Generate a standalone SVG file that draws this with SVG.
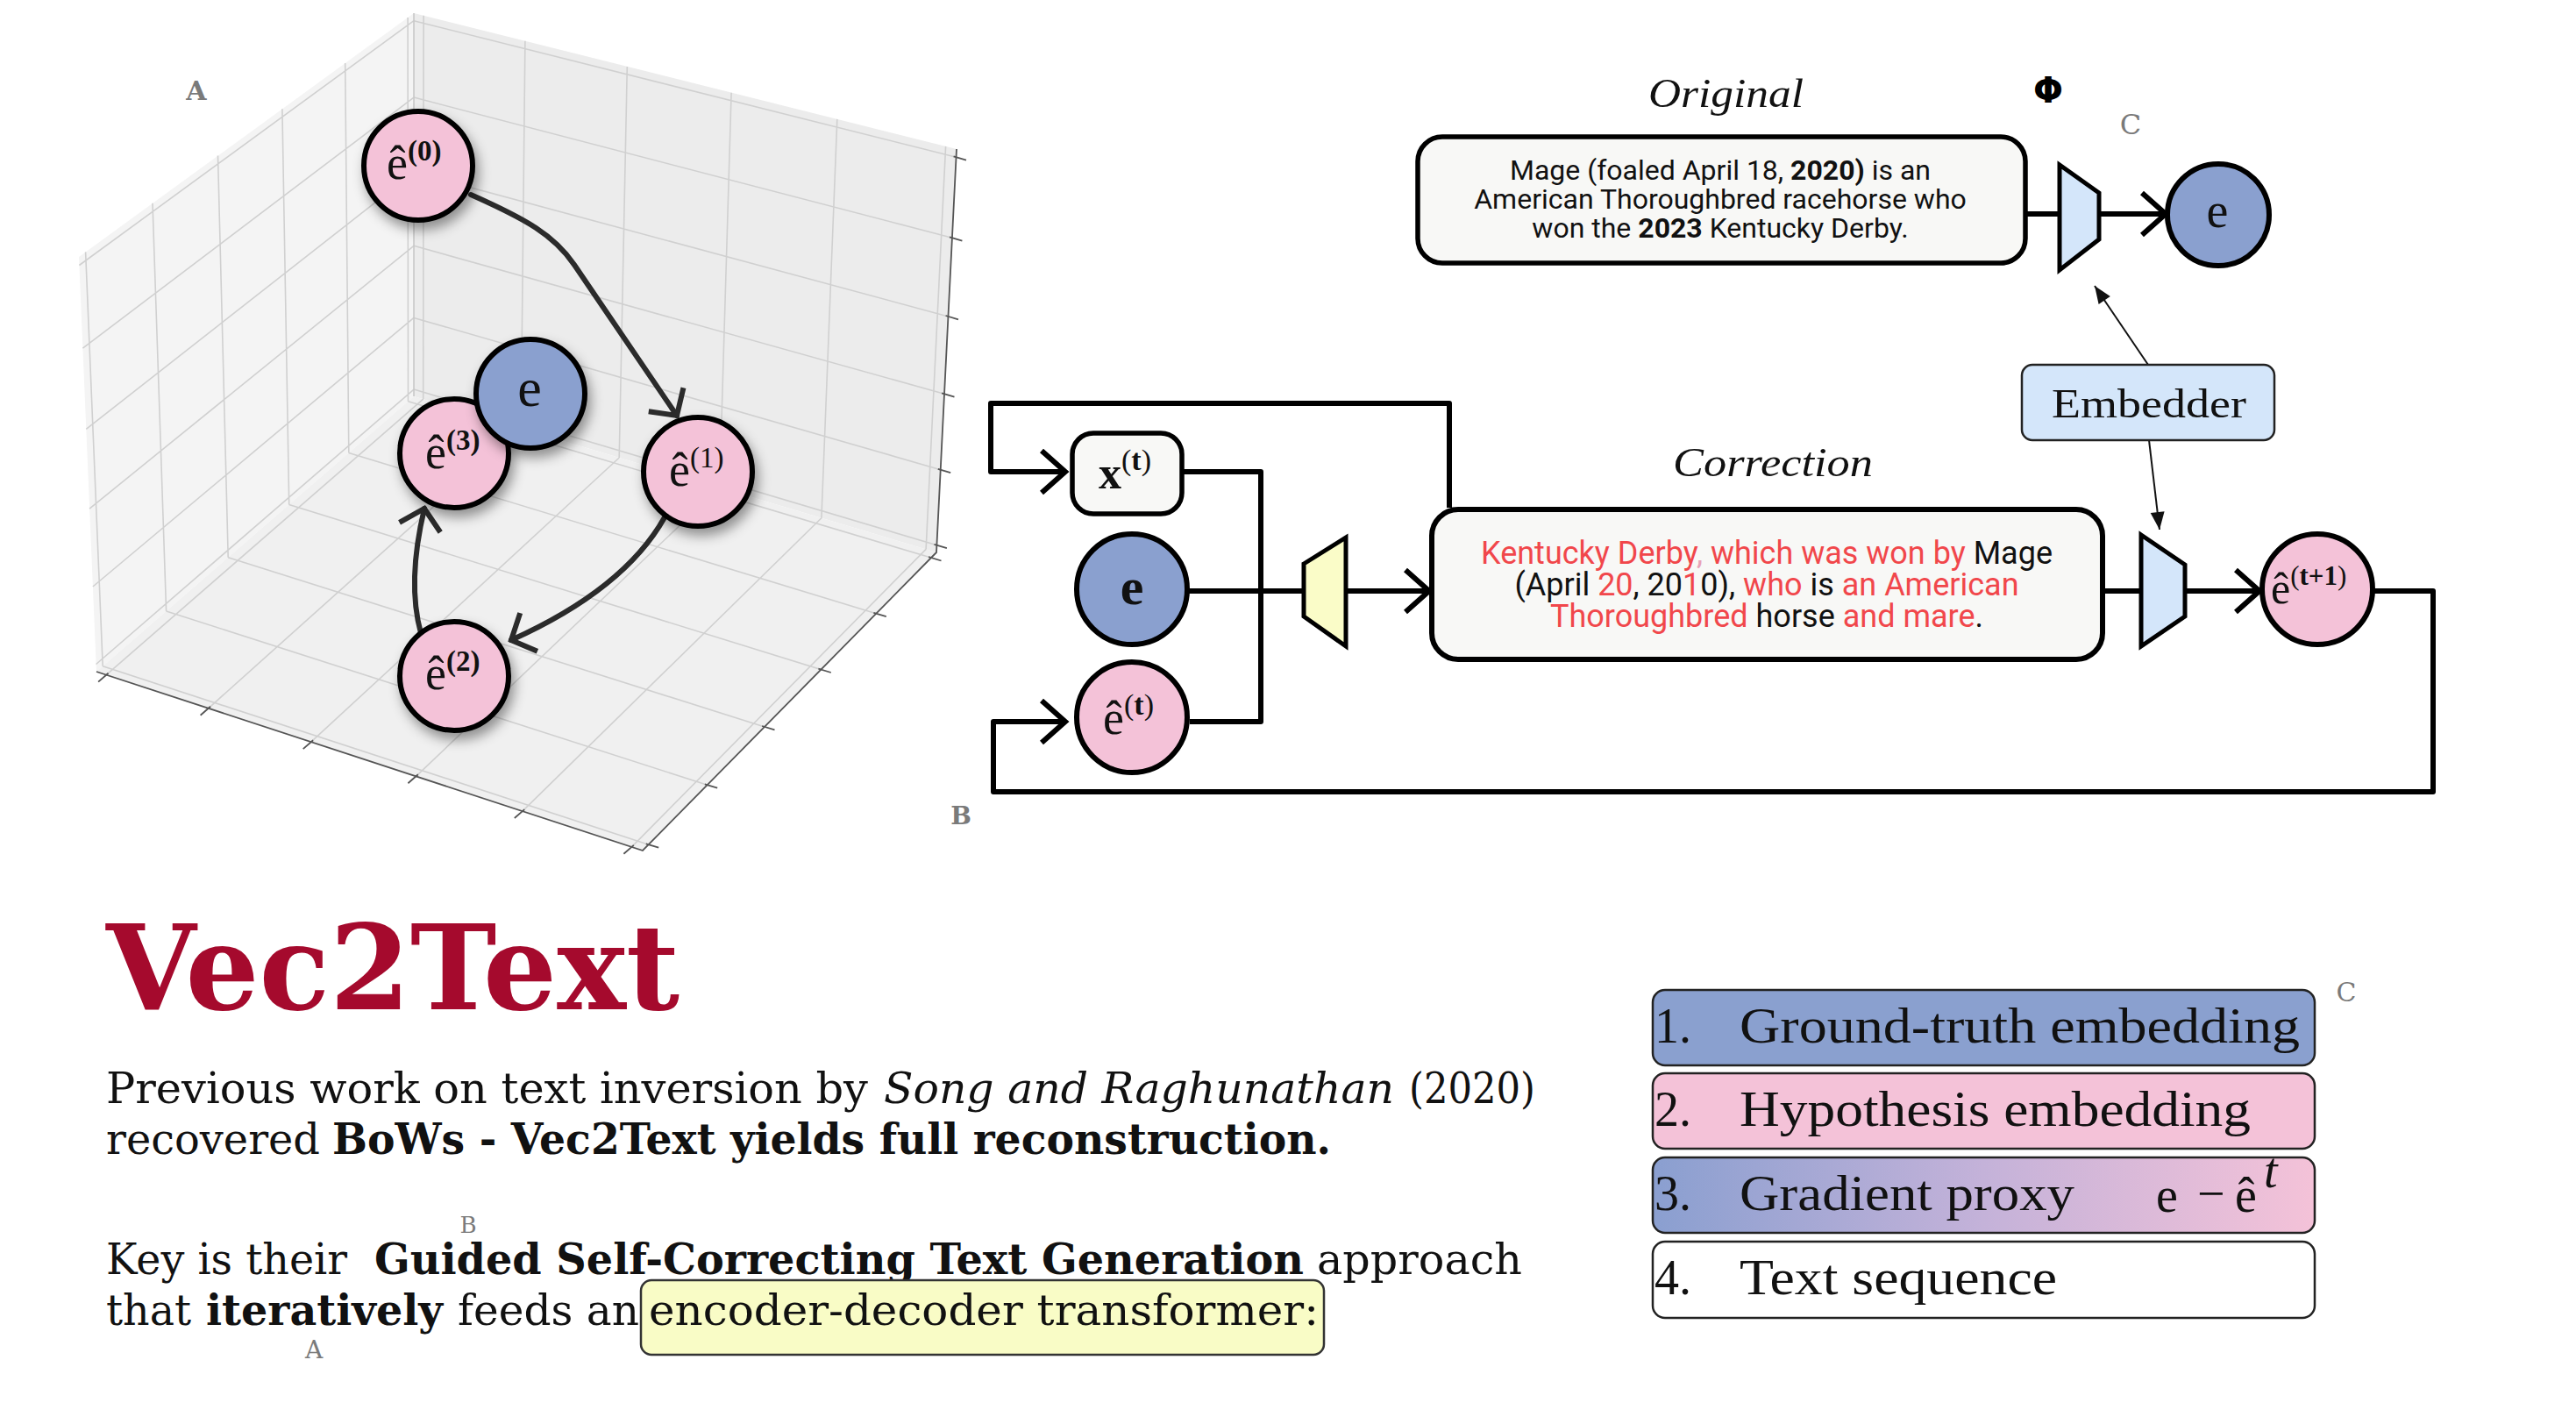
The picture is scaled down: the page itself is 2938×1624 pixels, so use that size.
<svg xmlns="http://www.w3.org/2000/svg" width="2938" height="1624" viewBox="0 0 2938 1624">
<style>
.mt{font-family:"Liberation Serif","DejaVu Serif",serif;fill:#111}
.body{font-family:"DejaVu Serif",serif;font-size:48px;fill:#111}
.sans{font-family:Roboto,"Liberation Sans",sans-serif;fill:#111}
.red{fill:#f1474b}
.lbl{font-family:"DejaVu Serif",serif;fill:#7a7a7a}
.grid{fill:none;stroke:#d0d0d0;stroke-width:1.6}
.axis{fill:none;stroke:#555;stroke-width:1.8}
.pn{stroke:#000;stroke-width:6}
.pink{fill:#f4c2d8}
.blue{fill:#8aa0cf}
.conn{fill:none;stroke:#000;stroke-width:6;stroke-linejoin:round}
.parr{fill:none;stroke:#2b2b2b;stroke-width:6;stroke-linecap:round}
.thin{fill:none;stroke:#111;stroke-width:2}
.leg{stroke:#222;stroke-width:2.5}
.lt{font-family:"Liberation Serif","DejaVu Serif",serif;font-size:56px;fill:#111}
</style>
<defs>
<filter id="sh" x="-40%" y="-40%" width="190%" height="190%"><feDropShadow dx="4" dy="8" stdDeviation="7" flood-color="#000" flood-opacity="0.4"/></filter>
<marker id="chev" markerUnits="userSpaceOnUse" viewBox="-35 -30 40 60" refX="0" refY="0" markerWidth="40" markerHeight="60" orient="auto" overflow="visible"><path d="M-27,-24 L0,0 L-27,24" fill="none" stroke="#000" stroke-width="6"/></marker>
<marker id="pchev" markerUnits="userSpaceOnUse" viewBox="-35 -30 40 60" refX="0" refY="0" markerWidth="40" markerHeight="60" orient="auto" overflow="visible"><path d="M-22,-24 L0,0 L-22,24" fill="none" stroke="#2b2b2b" stroke-width="6"/></marker>
<marker id="tri" markerUnits="userSpaceOnUse" viewBox="-22 -10 24 20" refX="0" refY="0" markerWidth="24" markerHeight="20" orient="auto" overflow="visible"><path d="M-20,-8 L0,0 L-20,8 Z" fill="#111"/></marker>
<linearGradient id="grad" x1="0" y1="0" x2="1" y2="0"><stop offset="0" stop-color="#8a9fd0"/><stop offset="0.5" stop-color="#c4b2d9"/><stop offset="1" stop-color="#f4c2d8"/></linearGradient>
</defs>

<!-- 3D plot -->
<g id="plot3d">
<polygon points="90,293 472,15 472,452 110,766" fill="#f4f4f4"/>
<polygon points="472,15 1091,170 1068,630 472,452" fill="#ececec"/>
<polygon points="472,452 1068,630 733,970 110,766" fill="#f0f0f0"/>
<path class="grid" d="M465.5,457.7 L465.1,20 M397.8,516.4 L393.7,72 M329.7,575.4 L321.9,124.3 M260.2,635.7 L248.5,177.6 M189.6,696.9 L174,231.8 M117.2,759.7 L97.6,287.4
M472,444.1 L109.6,757.5 M472,362.4 L105.9,669 M472,280.3 L102.1,580.1 M472,196.4 L98.3,489.3 M472,111.1 L94.4,397.1 M472,23.7 L90.4,302.5
M482.7,455.2 L483.1,17.8 M594.2,488.5 L598.9,46.8 M706.2,522 L715.3,75.9 M820.7,556.1 L834.1,105.7 M936.9,590.8 L954.8,135.9 M1056.1,626.4 L1078.6,166.9
M472,444.1 L1068.4,621.7 M472,362.4 L1072.7,535.7 M472,280.3 L1077,449.2 M472,196.4 L1081.5,360.9 M472,111.1 L1085.9,271.2 M472,23.7 L1090.5,179.2
M465.5,457.7 L1062,636.1 M397.8,516.4 L999.3,699.7 M329.7,575.4 L936.3,763.6 M260.2,635.7 L872,828.9 M189.6,696.9 L806.7,895.2 M117.2,759.7 L739.7,963.2
M482.7,455.2 L121.2,769.7 M594.2,488.5 L237.7,807.8 M706.2,522 L354.8,846.2 M820.7,556.1 L474.5,885.3 M936.9,590.8 L595.9,925.1 M1056.1,626.4 L720.5,965.9"/>
<path d="M472,15 L472,452" stroke="#c8c8c8" stroke-width="1.6"/>
<path class="axis" d="M110,766 L733,970 L1068,630 L1091,170"/>
<path class="axis" d="M123.5,767.7 L112.1,777.6 M240,805.8 L228.6,815.7 M357.1,844.2 L345.7,854.1 M476.8,883.3 L465.4,893.2 M598.2,923.1 L586.8,933 M722.8,963.9 L711.4,973.8
M736.8,962.3 L751.2,966.6 M803.8,894.3 L818.2,898.6 M869.1,828 L883.5,832.3 M933.4,762.7 L947.8,767 M996.4,698.8 L1010.8,703.1 M1059.1,635.2 L1073.5,639.5
M1065.5,620.8 L1079.9,625.1 M1069.8,534.8 L1084.2,539.1 M1074.1,448.3 L1088.5,452.6 M1078.6,360 L1093,364.3 M1083,270.3 L1097.4,274.6 M1087.6,178.3 L1102,182.6"/>
</g>
<text class="lbl" x="224" y="114" font-size="30" font-weight="bold" text-anchor="middle">A</text>

<g id="plot-arrows">
<path class="parr" d="M537,222 C600,250 632,268 655,302 L772,474" marker-end="url(#pchev)"/>
<path class="parr" d="M758,590 Q712,672 583,730" marker-end="url(#pchev)"/>
<path class="parr" d="M480,722 Q464,664 484,580" marker-end="url(#pchev)"/>
</g>

<g id="p-e0"><circle cx="477" cy="189" r="62" class="pink pn" filter="url(#sh)"/><text class="mt" x="441" y="204" font-size="54">ê<tspan dy="-21" font-size="33" font-weight="bold">(0)</tspan></text></g>
<g id="p-e1"><circle cx="796" cy="538" r="62" class="pink pn" filter="url(#sh)"/><text class="mt" x="763" y="554" font-size="54">ê<tspan dy="-21" font-size="33">(1)</tspan></text></g>
<g id="p-e2"><circle cx="518" cy="771" r="62" class="pink pn" filter="url(#sh)"/><text class="mt" x="485" y="786" font-size="54">ê<tspan dy="-21" font-size="33" font-weight="bold">(2)</tspan></text></g>
<g id="p-e3"><circle cx="518" cy="517" r="62" class="pink pn" filter="url(#sh)"/><text class="mt" x="485" y="534" font-size="54">ê<tspan dy="-21" font-size="33" font-weight="bold">(3)</tspan></text></g>
<g id="p-e"><circle cx="605" cy="449" r="62" class="blue pn" filter="url(#sh)"/><text class="mt" x="604" y="463" font-size="62" text-anchor="middle">e</text></g>

<!-- Top: Original -->
<text class="mt" x="1880" y="122" font-size="46" font-style="italic" textLength="177" lengthAdjust="spacingAndGlyphs">Original</text>
<text x="2336" y="117" font-family="DejaVu Sans,sans-serif" font-size="40" font-weight="bold" text-anchor="middle" fill="#000">Φ</text>
<text class="lbl" x="2430" y="153" font-size="32" text-anchor="middle" fill="#888">C</text>

<g id="connectors">
<path class="conn" d="M2311,244 L2349,244"/>
<path class="conn" d="M2394,244 L2470,244" marker-end="url(#chev)"/>
<path class="thin" d="M2450,416 L2389,326" marker-end="url(#tri)"/>
<path class="thin" d="M2451,502 L2463,604" marker-end="url(#tri)"/>
<path class="conn" d="M1653,579 L1653,460 L1130,460 L1130,538 L1215,538" marker-end="url(#chev)"/>
<path class="conn" d="M1348,538 L1438,538 L1438,823 L1357,823"/>
<path class="conn" d="M1355,674 L1487,674"/>
<path class="conn" d="M1536,674 L1630,674" marker-end="url(#chev)"/>
<path class="conn" d="M2398,674 L2442,674"/>
<path class="conn" d="M2492,674 L2577,674" marker-end="url(#chev)"/>
<path class="conn" d="M2706,674 L2775,674 L2775,903 L1133,903 L1133,823 L1215,823" marker-end="url(#chev)"/>
</g>

<g id="original-box">
<rect x="1617" y="156" width="693" height="144" rx="28" fill="#f8f8f6" stroke="#000" stroke-width="5.5"/>
<text class="sans" font-size="32" text-anchor="middle"><tspan x="1962" y="205">Mage (foaled April 18, <tspan font-weight="bold">2020)</tspan> is an</tspan><tspan x="1962" y="238">American Thoroughbred racehorse who</tspan><tspan x="1962" y="271">won the <tspan font-weight="bold">2023</tspan> Kentucky Derby.</tspan></text>
</g>
<g id="enc-top"><polygon points="2349,188 2394,220 2394,273 2349,308" fill="#d4e6fa" stroke="#000" stroke-width="5" stroke-linejoin="miter"/></g>
<g id="e-top"><circle cx="2530" cy="245" r="58" class="blue" stroke="#000" stroke-width="6"/><text class="mt" x="2529" y="259" font-size="56" text-anchor="middle">e</text></g>

<g id="embedder"><rect x="2306" y="416" width="288" height="86" rx="12" fill="#d4e6fa" stroke="#222" stroke-width="2.5"/><text class="mt" x="2340" y="476" font-size="46" textLength="222" lengthAdjust="spacingAndGlyphs">Embedder</text></g>

<text class="mt" x="1908" y="543" font-size="46" font-style="italic" textLength="228" lengthAdjust="spacingAndGlyphs">Correction</text>

<g id="xt"><rect x="1223" y="494" width="125" height="92" rx="24" fill="#f8f8f6" stroke="#000" stroke-width="5.5"/><text class="mt" x="1253" y="557" font-size="52" font-weight="bold">x<tspan dy="-21" font-size="34" font-weight="normal">(<tspan font-weight="bold">t</tspan>)</tspan></text></g>
<g id="e-mid"><circle cx="1291" cy="672" r="63" class="blue" stroke="#000" stroke-width="6"/><text class="mt" x="1291" y="689" font-size="60" font-weight="bold" text-anchor="middle">e</text></g>
<g id="et"><circle cx="1291" cy="818" r="63" class="pink" stroke="#000" stroke-width="6"/><text class="mt" x="1258" y="837" font-size="54">ê<tspan dy="-22" font-size="34">(<tspan font-weight="bold">t</tspan>)</tspan></text></g>
<g id="decoder"><polygon points="1487,643 1535,613 1535,737 1487,703" fill="#fafcc8" stroke="#000" stroke-width="5"/></g>

<g id="correction-box">
<rect x="1633" y="581" width="765" height="171" rx="30" fill="#f8f8f6" stroke="#000" stroke-width="6"/>
<text class="sans" font-size="36" text-anchor="middle"><tspan x="2015" y="643"><tspan class="red">Kentucky Derby</tspan><tspan fill="#e8a3b8">,</tspan><tspan class="red"> which was won by</tspan> Mage</tspan><tspan x="2015" y="679">(April <tspan class="red">20</tspan>, 20<tspan class="red">1</tspan>0), <tspan class="red">who</tspan> is <tspan class="red">an American</tspan></tspan><tspan x="2015" y="715"><tspan class="red">Thoroughbred</tspan> horse <tspan class="red">and mare</tspan>.</tspan></text>
</g>
<g id="enc-mid"><polygon points="2442,610 2492,644 2492,703 2442,737" fill="#d4e6fa" stroke="#000" stroke-width="5"/></g>
<g id="et1"><circle cx="2643" cy="672" r="63" class="pink" stroke="#000" stroke-width="6"/><text class="mt" x="2590" y="688" font-size="50">ê<tspan dy="-21" font-size="31">(<tspan font-weight="bold">t+1</tspan>)</tspan></text></g>
<text class="lbl" x="1096" y="940" font-size="28" font-weight="bold" text-anchor="middle">B</text>

<!-- Bottom-left text -->
<text x="121" y="1151" font-family="DejaVu Serif,serif" font-size="134" font-weight="bold" fill="#a50a2d" textLength="654" lengthAdjust="spacingAndGlyphs">Vec2Text</text>
<text class="body" x="121" y="1258" textLength="869" lengthAdjust="spacingAndGlyphs">Previous work on text inversion by</text>
<text class="body" x="1008" y="1258" font-style="italic" textLength="582" lengthAdjust="spacingAndGlyphs">Song and Raghunathan</text>
<text class="body" x="1607" y="1258" textLength="144" lengthAdjust="spacingAndGlyphs">(2020)</text>
<text class="body" x="121" y="1316" textLength="244" lengthAdjust="spacingAndGlyphs">recovered</text>
<text class="body" x="379" y="1316" font-weight="bold" textLength="1139" lengthAdjust="spacingAndGlyphs">BoWs - Vec2Text yields full reconstruction.</text>
<text class="lbl" x="534" y="1406" font-size="26" text-anchor="middle" fill="#888">B</text>
<text class="body" x="121" y="1453" textLength="275" lengthAdjust="spacingAndGlyphs">Key is their</text>
<text class="body" x="427" y="1453" font-weight="bold" textLength="1060" lengthAdjust="spacingAndGlyphs">Guided Self-Correcting Text Generation</text>
<text class="body" x="1502" y="1453" textLength="234" lengthAdjust="spacingAndGlyphs">approach</text>
<rect x="731" y="1460" width="779" height="85" rx="12" fill="#f9fcc6" stroke="#333" stroke-width="2.5"/>
<text class="body" x="121" y="1511" textLength="97" lengthAdjust="spacingAndGlyphs">that</text>
<text class="body" x="235" y="1511" font-weight="bold" textLength="270" lengthAdjust="spacingAndGlyphs">iteratively</text>
<text class="body" x="522" y="1511" textLength="207" lengthAdjust="spacingAndGlyphs">feeds an</text>
<text class="body" x="740" y="1511" textLength="764" lengthAdjust="spacingAndGlyphs">encoder-decoder transformer:</text>
<text class="lbl" x="358" y="1549" font-size="28" text-anchor="middle" fill="#888">A</text>

<!-- Legend -->
<g id="legend-1"><rect x="1885" y="1129" width="755" height="86" rx="14" class="leg" fill="#8aa0cf"/><text class="lt" x="1887" y="1189">1.</text><text class="lt" x="1984" y="1189" textLength="639" lengthAdjust="spacingAndGlyphs">Ground-truth embedding</text></g>
<g id="legend-2"><rect x="1885" y="1224" width="755" height="86" rx="14" class="leg" fill="#f4c2d8"/><text class="lt" x="1887" y="1284">2.</text><text class="lt" x="1984" y="1284" textLength="583" lengthAdjust="spacingAndGlyphs">Hypothesis embedding</text></g>
<g id="legend-3"><rect x="1885" y="1320" width="755" height="86" rx="14" class="leg" fill="url(#grad)"/><text class="lt" x="1887" y="1380">3.</text><text class="lt" x="1984" y="1380" textLength="382" lengthAdjust="spacingAndGlyphs">Gradient proxy</text>
<text class="lt" x="2459" y="1382" font-size="62">e</text><text class="lt" x="2506" y="1380">−</text><text class="lt" x="2549" y="1382" font-size="62">ê</text><text class="lt" x="2582" y="1354" font-size="40" font-style="italic">t</text></g>
<g id="legend-4"><rect x="1885" y="1416" width="755" height="87" rx="14" class="leg" fill="#fff"/><text class="lt" x="1887" y="1476">4.</text><text class="lt" x="1984" y="1476" textLength="362" lengthAdjust="spacingAndGlyphs">Text sequence</text></g>
<text class="lbl" x="2676" y="1142" font-size="30" text-anchor="middle" fill="#888">C</text>
</svg>
